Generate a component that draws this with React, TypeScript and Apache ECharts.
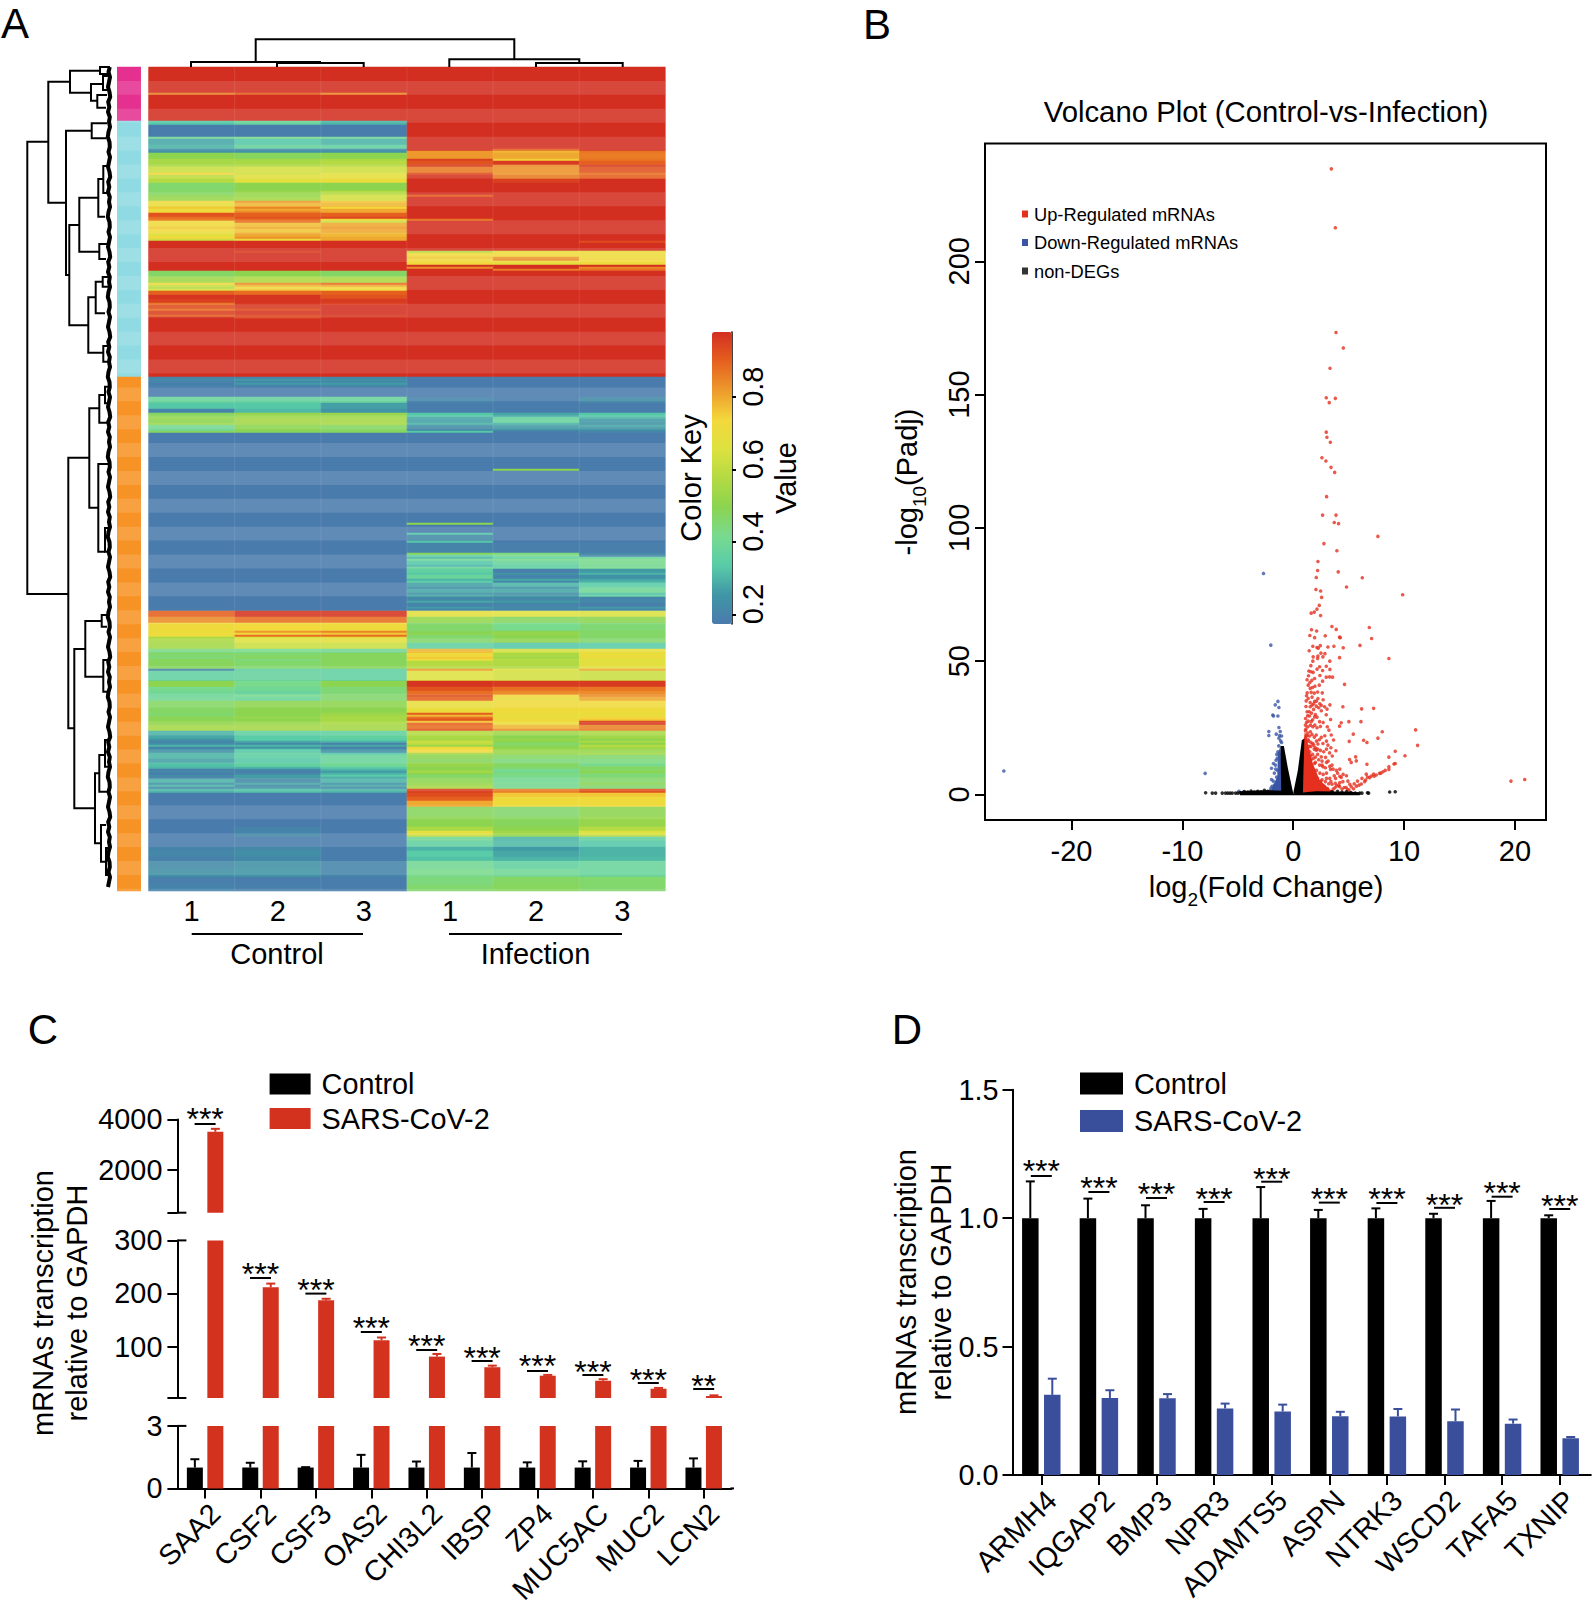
import React, { useEffect, useRef } from "react";
import * as echarts from "echarts";

const FONT = "Liberation Sans";
const R = 0.98;
const L = 0.17;

// ---- Panel A: heat map, bands of rows: [rows, Control 1-3, Infection 1-3]
const heatColumns = ["Control 1", "Control 2", "Control 3", "Infection 1", "Infection 2", "Infection 3"];
const heatBands: number[][] = [
  [13, R, R, R, R, R, R], [1, .85, .9, .84, R, R, R], [13, R, R, R, R, R, R],
  [2, .33, .38, .3, R, R, R], [6, .18, .18, .18, R, R, R], [1, .4, .42, .4, R, R, R], [3, .28, .33, .3, R, R, R],
  [2, .3, .37, .36, R, R, R], [1, .22, .22, .22, R, .9, R], [1, .25, .25, .25, .82, .78, .87], [3, .5, .48, .5, .82, .8, .86],
  [1, .55, .54, .56, .95, .75, .87], [2, .55, .56, .58, .92, .96, .9], [1, .56, .57, .58, .96, .84, .96], [3, .62, .64, .63, .86, .83, .92],
  [1, .74, .63, .66, .93, .82, .87], [2, .6, .67, .69, .97, .86, .9], [2, .58, .67, .7, R, .95, R], [4, .46, .5, .5, R, R, R],
  [2, .47, .52, .58, R, R, R], [1, .5, .52, .64, .9, R, R], [2, .52, .55, .64, R, R, R], [1, .72, .82, .76, R, R, R],
  [2, .7, .78, .78, R, R, R], [1, .76, .85, .74, R, R, R], [1, .7, .8, .8, R, R, R], [1, .74, .84, .8, R, R, R], [2, .92, .9, .9, R, R, R], [1, .88, .92, .94, R, R, R], [1, .86, .88, .72, .87, R, R],
  [1, .72, .88, .62, R, R, R], [2, .72, .77, .8, R, R, R], [1, .76, .8, .82, R, R, R], [2, .72, .76, .8, R, R, R], [2, .68, .8, .78, R, R, R], [1, .74, .83, .8, R, R, R], [1, .62, .72, .8, R, R, R], [1, R, R, R, R, R, .93], [4, R, R, R, R, R, R],
  [1, R, .95, R, .58, .7, .71], [2, R, R, R, .72, .72, .71], [1, R, R, R, .76, .82, .72], [1, R, R, R, .72, .84, .74], [1, R, R, R, .74, .7, .72], [1, R, R, R, .72, .68, .71],
  [1, R, R, R, R, R, R], [1, R, R, R, .84, R, .85], [1, R, R, R, R, .86, .88],
  [3, .47, .5, .47, R, R, R], [3, .54, .57, .56, R, R, R], [1, .72, .84, .88, R, R, R], [1, .62, .78, .8, R, R, R], [1, .58, .72, .74, R, R, R], [1, .64, .76, .72, R, R, R],
  [2, .9, .88, .9, R, R, R], [2, .97, .97, .92, R, R, R], [2, .95, .97, .96, R, R, R], [1, .87, .97, .95, R, R, R], [2, .93, .96, R, R, R, R],
  [1, .88, .93, R, R, R, R], [2, .95, .97, R, R, R, R], [1, .9, .94, .96, R, R, R], [1, R, .94, R, R, R, R], [29, R, R, R, R, R, R],
  [1, .2, .2, .21, L, L, L], [1, .22, .26, .24, L, L, L], [1, .2, .21, .22, L, L, L], [1, .18, .26, .26, L, L, L], [1, .2, .2, .22, L, L, L], [5, L, L, L, L, L, L], [3, .38, .37, .38, .2, .18, .22], [3, .33, .33, .27, .18, .18, .18],
  [2, .2, .31, .25, .18, .18, .18], [2, .48, .52, .52, .33, .28, .33], [1, .52, .54, .55, .28, .36, .3], [2, .5, .55, .55, .27, .38, .26], [1, .53, .54, .56, .3, .3, .24], [1, .42, .5, .48, .24, .27, .28], [2, .4, .5, .47, .22, .25, .25],
  [1, .48, .48, .48, .33, .18, .2], [18, L, L, L, L, L, L], [1, L, L, L, L, .5, L], [26, L, L, L, L, L, L], [1, L, L, L, .5, L, L],
  [4, L, L, L, L, L, L], [1, L, L, L, .33, L, L], [3, L, L, L, .22, L, L], [1, L, L, L, .33, L, L], [5, L, L, L, .2, .19, .19],
  [1, L, L, L, .48, .44, .21], [1, L, L, L, .36, .42, .21], [1, L, L, L, .3, .36, .38], [1, L, L, L, .4, .42, .42], [2, L, L, L, .33, .38, .42], [1, L, L, L, .3, .35, .4], [1, L, L, L, .38, .36, .42],
  [2, L, L, L, .36, .19, .26], [1, L, L, L, .33, .25, .3], [2, L, L, L, .38, .2, .24], [1, L, L, L, .3, .28, .28], [1, L, L, L, .35, .22, .3],
  [2, L, L, L, .27, .3, .34], [1, L, L, L, .22, .24, .38], [2, L, L, L, .28, .28, .4], [1, L, L, L, .24, .22, .32], [1, L, L, L, .28, .26, .36],
  [2, L, L, L, .22, .22, .2], [1, L, L, L, .28, .26, .22], [2, L, L, L, .2, .2, .19], [1, L, L, L, .26, .22, .26], [1, L, L, L, .2, .2, .2],
  [3, .9, .97, .97, .68, .66, .65], [3, .84, .88, .88, .52, .48, .5], [4, .72, .73, .72, .46, .42, .45], [1, .7, .82, .85, .48, .5, .47], [1, .72, .74, .76, .5, .52, .46], [1, .7, .88, .88, .46, .5, .47],
  [3, .56, .66, .68, .46, .5, .46], [3, .55, .62, .62, .36, .33, .34], [2, .43, .42, .4, .78, .64, .7], [2, .46, .46, .48, .72, .56, .7], [1, .44, .48, .48, .76, .54, .72], [1, .48, .44, .48, .7, .58, .66],
  [4, .48, .46, .48, .58, .57, .68], [1, .2, .35, .36, .82, .66, .8], [5, .36, .37, .36, .66, .64, .62], [3, .5, .42, .5, .97, .96, .96],
  [2, .42, .4, .45, .92, .88, .87], [2, .4, .38, .45, .88, .84, .84], [1, .38, .42, .46, .93, .74, .84], [2, .4, .38, .46, .9, .7, .8], [6, .47, .5, .5, .7, .72, .72],
  [1, .46, .5, .53, .9, .7, .7], [1, .46, .5, .54, .78, .7, .7], [1, .5, .52, .56, .88, .7, .74], [1, .48, .5, .55, .92, .72, .76], [1, .52, .52, .56, .76, .72, .94], [1, .5, .52, .56, .9, .7, .97],
  [2, .55, .55, .55, .88, .78, .85], [1, .55, .54, .55, .92, .84, .86],
  [2, .3, .36, .36, .58, .54, .56], [2, .28, .34, .36, .56, .5, .54], [1, .25, .34, .34, .55, .52, .5], [1, .2, .28, .3, .62, .5, .56], [1, .23, .22, .19, .6, .46, .5],
  [1, .3, .3, .28, .53, .48, .58], [1, .2, .25, .19, .72, .5, .54], [2, .24, .33, .24, .72, .52, .52], [1, .3, .36, .33, .55, .52, .55], [2, .3, .35, .38, .5, .47, .46],
  [2, .27, .33, .38, .48, .44, .44], [2, .32, .36, .4, .52, .47, .42], [1, .3, .3, .34, .5, .46, .48], [1, .19, .22, .3, .5, .42, .46], [1, .22, .19, .26, .55, .4, .5],
  [1, .18, .22, .3, .5, .44, .46], [1, .23, .27, .34, .46, .42, .44], [1, .19, .25, .28, .48, .42, .46], [2, .3, .22, .3, .5, .4, .46], [1, .24, .28, .24, .52, .42, .5],
  [1, .3, .22, .28, .54, .4, .46], [1, .22, .25, .22, .56, .42, .46], [2, .3, .32, .3, .95, .86, .92], [2, L, L, .18, .93, .76, .76], [2, L, L, .18, .9, .72, .72], [3, L, L, L, .8, .72, .72],
  [5, L, L, L, .48, .46, .5], [5, L, L, L, .5, .48, .52], [2, L, .2, L, .56, .5, .58], [2, L, .2, L, .68, .54, .66], [1, L, .22, L, .6, .5, .58],
  [2, .18, .18, .18, .4, .3, .36], [3, .18, .18, .18, .36, .31, .33], [2, .2, .22, .18, .3, .26, .3], [3, .21, .23, .18, .34, .28, .3], [2, .19, .21, .18, .32, .3, .31],
  [4, .22, .24, .2, .4, .36, .38], [4, .24, .25, .2, .42, .4, .38], [4, .19, .18, .18, .44, .47, .46], [3, .2, .19, .18, .46, .48, .46],
];
const sideGroupRows = [27, 128, 257];
const sideGroupColors = ["#E5308F", "#90DBE3", "#F79326"];
const keyColors = ["#4A7BAD", "#3F96A5", "#58CBA8", "#78DA90", "#8BD450", "#B4DA42", "#DDE240", "#F4D83C", "#ED9A2C", "#E5601F", "#D32F20"];
const keyTicks = [0.2, 0.4, 0.6, 0.8];

// ---- Panel B: volcano plot
const upPoints: number[][] = [
  [3.44, 234.7], [3.8, 212.6], [3.86, 173.3], [4.52, 167.5], [3.32, 159.9], [2.98, 148.8], [3.25, 147], [3.8, 148.6], [2.98, 135.9], [3.04, 134],
  [3.35, 132.1], [2.59, 126.3], [2.95, 125.1], [3.41, 122.7], [3.74, 120.8], [3.01, 111.7], [2.65, 104.8], [3.86, 104.8], [3.7, 102], [4.09, 101.6],
  [7.64, 96.8], [2.77, 94.1], [3.94, 91.4], [2.23, 87.4], [2.2, 84], [4.06, 83.5], [2.08, 81.4], [6.23, 81.3], [4.81, 77.8], [2.05, 76.9], [2.47, 76.3],
  [9.87, 74.9], [2.56, 73.9], [2.35, 70.9], [2.14, 69.5], [1.9, 68.4], [1.62, 68], [2.47, 67.1], [3.49, 63], [3.88, 61.9], [6.86, 62.6], [1.65, 61.8],
  [2.11, 61.3], [7.07, 58.5], [1.5, 59.6], [1.93, 58.8], [2.89, 59.5], [4.18, 59], [4.24, 58.8], [6.02, 55.9], [1.77, 55.6], [2.14, 55.1], [2.26, 54.9],
  [2.44, 55.8], [3.13, 55.3], [3.67, 55.6], [4.51, 55], [1.44, 53.9], [2.86, 52.8], [8.63, 51], [1.8, 51.6], [2.23, 51.9], [4.18, 51.3], [1.77, 50],
  [1.59, 48.3], [1.41, 46.3], [1.8, 45.8], [1.38, 44.5], [1.93, 43.5], [1.68, 42.8], [2.41, 44.6], [2.98, 44], [3.28, 44.1], [3.55, 44], [2.98, 48.1],
  [3.31, 46.9], [2.38, 47.9], [2.68, 51.6], [1.53, 39.8], [1.74, 40.1], [1.96, 40.6], [1.26, 38.1], [1.62, 38.3], [2.2, 38.4], [2.62, 38.1], [1.17, 35.1],
  [1.53, 34.5], [1.93, 34.9], [2.23, 36], [1.53, 32.9], [1.84, 31.9], [2.08, 33.1], [2.53, 33.4], [2.83, 32.9], [3.31, 33.6], [2.53, 31.4], [2.98, 29.9],
  [3.37, 28.1], [1.11, 28.5], [1.47, 29.4], [1.93, 29.1], [2.38, 27.3], [1.62, 27.3], [1.32, 25.4], [1.77, 25.4], [3.07, 25.4], [3.22, 24.1], [4.33, 26.9],
  [4.18, 25.6], [3.43, 22.3], [3.64, 20.4], [2.53, 21.4], [2.08, 22.3], [1.47, 21.9], [1.17, 19.8], [1.77, 19.1], [2.23, 18.9], [2.68, 19.1], [3.13, 18.5],
  [3.85, 16.4], [3.28, 15.6], [3.52, 14.4], [2.08, 16.6], [2.53, 14.1], [2.92, 13.9], [5.08, 13.1], [5.23, 12], [5.63, 14.1], [5.69, 12.6], [6.65, 11.3],
  [3.37, 9.4], [2.68, 10.4], [2.38, 11], [1.93, 11.6], [4.33, 6.4], [3.82, 6], [4.48, 4.8], [4.93, 5], [7.25, 7.6], [5.69, 3.1], [6.14, 3.9], [6.53, 5.4],
  [6.89, 6.3], [7.49, 7.3], [8.09, 8.5], [8.63, 10.4], [8.63, 9.4], [9.09, 11.4], [9.2, 11.6], [4.78, 2.6], [5.23, 2.9], [4.18, 2.9], [3.76, 2.5], [6.59, 7.6],
  [7.04, 6.9], [7.79, 7.9], [6.44, 4.8], [5.93, 3.5], [5.44, 2.1], [5.02, 1.6], [1.2, 16], [1.4, 14], [1.6, 13], [1.8, 13.5], [2, 12], [1.3, 11], [1.5, 10],
  [1.7, 9], [2.1, 9], [2.4, 8], [2.7, 7.5], [3, 8], [3.3, 6], [2.2, 6], [1.9, 6.5], [1.6, 7], [2.5, 5], [2.9, 4.8], [3.2, 4], [3.5, 3.8], [3.9, 3.2], [2.8, 3],
  [2.4, 3.2], [2.1, 3.8], [1.8, 4], [4.2, 4.4], [4.6, 2.6], [4.9, 1.8], [3.6, 2], [3.1, 2.2], [1.1, 24], [1.2, 22], [1.3, 23], [1.4, 20], [1.6, 18], [1.9, 17],
  [1.5, 16], [2.2, 15], [2.6, 12.5], [3, 12], [3.3, 10.5], [3.6, 9.5], [4, 8], [4.2, 6.8], [19.64, 5], [20.88, 5.6], [11.04, 24.2], [11.22, 18.4], [10.08, 14.5],
  [9.2, 16.2], [8.63, 14], [8.03, 23.5], [7.64, 21.1], [7.25, 32.3], [6.17, 32.1], [6.11, 27.3], [5.02, 27.3], [4.48, 32.9], [5.42, 22.6], [5.05, 19.9],
  [6.35, 20.3], [6.65, 19.5], [4.63, 41.3],
  [1.15, 33], [1.25, 31], [1.3, 29.5], [1.45, 31], [1.65, 30.5], [1.7, 33.5], [1.85, 34], [2, 30], [2.15, 29], [2.3, 32.5], [1.2, 27], [1.35, 27.5], [1.55, 26],
  [1.75, 28], [1.95, 26], [2.15, 25], [2.45, 25.5], [2.7, 27], [1.1, 26], [1.15, 24.5], [1.25, 22], [1.35, 20.5], [1.55, 23.5], [1.7, 22.5], [1.9, 21.5], [2.1, 20],
  [2.35, 20.5], [2.85, 22], [3, 20], [1.1, 21], [1.2, 18.5], [1.3, 17], [1.45, 18], [1.6, 19.5], [1.85, 18.5], [2, 17.5], [2.2, 17], [2.45, 16.5], [2.75, 16], [3, 17],
  [3.4, 17.5], [1.15, 15], [1.3, 14], [1.55, 14.5], [1.75, 15], [2, 14], [2.3, 13], [2.6, 11], [2.9, 10], [3.15, 12.5], [3.5, 11], [3.9, 9], [4.2, 9.5], [4.5, 7.5],
  [4.8, 7], [3.7, 7], [3, 6], [2.6, 5.5], [2.3, 4.5], [2, 5], [3.4, 4.8], [3.8, 4.2], [4.1, 3.5], [4.4, 2], [5.1, 3.8], [5.5, 4], [5.8, 5], [6.2, 6], [6.7, 6.5],
  [7.3, 6.8], [7.9, 8], [8.3, 9], [1.2, 37], [1.35, 36], [1.7, 36.5], [2.1, 35], [2.4, 34], [2.7, 35.5], [3.05, 32], [1.35, 41], [1.5, 42], [1.9, 38], [2.35, 41],
  [2.65, 42.5], [1.25, 43], [1.6, 46], [2.15, 47], [2.65, 46.5], [2.2, 51], [2.5, 53], [3.3, 50],
];
const downPoints: number[][] = [
  [-26.1, 8.8], [-2.68, 82.9], [-2.02, 56], [-7.94, 7.9], [-1.38, 34.9], [-1.62, 33.6], [-1.29, 32.6], [-1.84, 29.8], [-1.78, 29.4], [-1.38, 29.4], [-1.29, 25.1],
  [-1.17, 23.6], [-1.53, 22.6], [-2.2, 23.6], [-2.2, 22.1], [-1.23, 22.1], [-1.05, 21.9], [-1.29, 21.1], [-1.14, 20.1], [-1.05, 19.5], [-1.78, 11.6], [-1.96, 9.8],
  [-1.96, 5.6], [-1.38, 16], [-1.44, 13.5], [-1.23, 15.1], [-1.6, 11], [-1.4, 9], [-1.7, 8], [-1.5, 6.5], [-1.9, 3], [-1.75, 2.5], [-1.65, 3.6], [-4.9, 1.2],
  [-1.55, 12.8], [-1.3, 18.2], [-1.48, 15], [-1.58, 9.5], [-1.8, 5], [-2, 2.4], [-2.05, 1.5],
];
const baseDots: number[][] = [
  [-7.9, 0.6], [-7.3, 0.5], [-7, 0.5], [-6.4, 0.5], [-6.1, 0.5], [-5.9, 0.5], [-5.7, 0.5], [-5.5, 0.5], [-5.2, 0.5], [-5, 0.5], [-4.8, 0.6],
  [-4.5, 0.8], [6.8, 0.5], [6, 0.5], [6.2, 0.5], [6.7, 0.6], [8.7, 0.9], [9.2, 1],
  [-4.4, 1.1], [-4.1, 0.9], [-3.8, 1.3], [-3.5, 0.9], [-3.2, 1.2], [-2.9, 1], [-2.6, 1.5], [-2.3, 1.2], [3.5, 1], [4, 1.2], [4.4, 0.8], [4.8, 1], [5.2, 0.7], [5.6, 0.5],
];
const blackLeft = [[-1.14, 18.2], [-0.84, 18.2], [-0.48, 9.8], [0, 0.4], [-1.08, 0.2]];
const blackRight = [[0, 0.4], [0.42, 9.1], [0.78, 20.4], [1, 20.9], [0.9, 0.4]];
const blackBase = [[-4.8, 1.2], [-2.4, 1.6], [-1, 1.4], [0, 0.4], [2.1, 1.2], [5.1, 1], [6, 0.8], [6, -0.3], [-4.8, -0.3]];
const blueWedge = [[-2, 0.4], [-1.85, 3.2], [-1.44, 6.6], [-1.38, 15.4], [-1.14, 18.2], [-1, 0.4]];
const redWedge = [[0.9, 0.6], [0.93, 19.1], [1.05, 24], [1.32, 19.1], [1.77, 11.6], [2.38, 5.4], [3.28, 1.9], [3.88, 0.6]];
const xTicksB = [-20, -10, 0, 10, 20];
const yTicksB = [0, 50, 100, 150, 200];

// ---- Panel C
const genesC = ["SAA2", "CSF2", "CSF3", "OAS2", "CHI3L2", "IBSP", "ZP4", "MUC5AC", "MUC2", "LCN2"];
const controlC = [1, 1, 1, 1, 1, 1, 1, 1, 1, 1];
const controlTopC = [1.4, 1.23, 1.02, 1.61, 1.29, 1.7, 1.25, 1.3, 1.32, 1.44];
const sarsC = [3510, 211.6, 187, 112, 81, 61, 45, 35.5, 20.5, 6.7];
const sarsTopC = [3626, 218.6, 190, 117, 86, 64, 46.5, 38.4, 22, 8];
const sigC = ["***", "***", "***", "***", "***", "***", "***", "***", "***", "**"];
const sigLineYC = [1124, 1278, 1293.6, 1332, 1350, 1361, 1371, 1375, 1383, 1389];
const sigTextYC = [1115, 1270, 1285.7, 1324, 1342, 1354, 1362, 1368, 1376, 1382];

// ---- Panel D
const genesD = ["ARMH4", "IQGAP2", "BMP3", "NPR3", "ADAMTS5", "ASPN", "NTRK3", "WSCD2", "TAFA5", "TXNIP"];
const controlD = [1, 1, 1, 1, 1, 1, 1, 1, 1, 1];
const controlTopD = [1.143, 1.076, 1.05, 1.036, 1.121, 1.032, 1.038, 1.017, 1.067, 1.011];
const sarsD = [0.312, 0.3, 0.299, 0.259, 0.247, 0.229, 0.228, 0.209, 0.2, 0.143];
const sarsTopD = [0.375, 0.33, 0.315, 0.278, 0.274, 0.246, 0.257, 0.255, 0.216, 0.148];
const sigD = ["***", "***", "***", "***", "***", "***", "***", "***", "***", "***"];
const sigLineYD = [1176, 1192, 1198, 1202, 1181.7, 1202.6, 1203, 1207.8, 1196.7, 1209];
const sigTextYD = [1167.4, 1183.8, 1190, 1194.6, 1175, 1194.6, 1195, 1200.9, 1189, 1202];

// ---- Dendrogram brackets: [x of join, y top, x top end, y bottom, x bottom end]
const rowDendro: number[][] = [
  [27.3, 141.7, 48.3, 594, 68.3], [48.3, 81.7, 70, 202.7, 66], [70, 70.7, 100, 92.7, 91], [91, 84, 103, 100.7, 97.3], [97.3, 95, 107, 107.7, 106],
  [66, 130.7, 91.7, 275, 69.3], [91.7, 123.3, 107, 138.3, 106], [69.3, 225, 79.3, 325.3, 88.3], [79.3, 197.7, 98.3, 251.7, 99.3], [98.3, 179, 103.3, 216.7, 105],
  [103.3, 166, 108, 193, 108], [99.3, 244, 108, 259, 106], [88.3, 297.3, 95.7, 352.7, 103.3], [95.7, 281.7, 102.7, 313.3, 105], [102.7, 277, 108, 286.7, 108],
  [103.3, 346, 108, 361.7, 108], [68.3, 457.7, 89.3, 728.3, 74.3], [89.3, 408.3, 99.3, 507.7, 98.3], [99.3, 395, 105, 422.7, 108], [105, 386.7, 110, 403.3, 108],
  [98.3, 464, 108, 551.7, 105], [105, 528, 110, 551.7, 108], [74.3, 649, 85.3, 808.3, 95], [85.3, 621, 101.7, 676.7, 103.3], [101.7, 615, 107, 626.7, 107],
  [103.3, 660, 108, 691.7, 108], [95, 773.3, 99.3, 843.3, 101], [99.3, 755, 105, 791.7, 108], [105, 740, 108, 766.7, 108], [101, 825, 106, 861.7, 106],
  [106, 848, 110, 875, 110], [100, 67, 110, 74, 110], [103, 76, 110, 90, 110],
];
const edgeWiggle = [0.8, -0.5, 1, 0, -1, 0.5, 1.2, -0.8, 0.3, -1, 0.8, 0, 1, -0.5, -1.2, 0.5];
const colDendro: number[][][] = [
  [[255.7, 62], [255.7, 39.3], [514.3, 39.3], [514.3, 59.3]],
  [[191, 67], [191, 62], [320, 62], [320, 63]],
  [[277, 67], [277, 63], [363.7, 63], [363.7, 67]],
  [[449.3, 67], [449.3, 59.3], [579.3, 59.3], [579.3, 63]],
  [[536, 67], [536, 63], [622.7, 63], [622.7, 67]],
];

const HX = 148.6, HW = 516.7, HY = 67, HH = 824;
const CX = 177.4, CW = 554, DX = 1012.5, DW = 576;

const shapeSeries = (name: string, points: number[][], color: string) => ({
  type: "custom", name, coordinateSystem: "cartesian2d", xAxisIndex: 3, yAxisIndex: 3, silent: true, data: [[0, 0]], z: 2,
  itemStyle: { color },
  renderItem: (_p: any, api: any) => ({ type: "polygon", shape: { points: points.map((q) => api.coord(q)) }, style: { fill: color } }),
});
const errorSeries = (name: string, grid: number, values: number[], tops: number[], keep: (i: number) => boolean, offset: number, color: string) => ({
  type: "custom", name, coordinateSystem: "cartesian2d", xAxisIndex: grid, yAxisIndex: grid, silent: true, z: 3,
  itemStyle: { color },
  encode: { x: 0, y: [1, 2] },
  data: values.map((v, i) => [i, v, tops[i]]).filter((d) => keep(d[0])),
  renderItem: (_p: any, api: any) => {
    const a = api.coord([api.value(0), api.value(1)]);
    const b = api.coord([api.value(0), api.value(2)]);
    const x = a[0] + offset;
    const st = { stroke: color, lineWidth: 2, fill: "none" };
    return { type: "group", children: [
      { type: "line", shape: { x1: x, y1: a[1], x2: x, y2: b[1] }, style: st },
      { type: "line", shape: { x1: x - 4.5, y1: b[1], x2: x + 4.5, y2: b[1] }, style: st },
    ] };
  },
});
const barSeries = (name: string, grid: number, data: number[], color: string, width: number, gap: string) => ({
  type: "bar", name, xAxisIndex: grid, yAxisIndex: grid, data, barWidth: width, barGap: gap, silent: true, itemStyle: { color },
});

const text = (t: string, x: number, y: number, size: number, extra: any = {}) => ({
  type: "text", x, y, z: 60, silent: true, ...extra,
  style: { text: t, fontSize: size, fontFamily: FONT, fill: "#000", align: "center", verticalAlign: "middle", ...(extra.style || {}) },
});
const seg = (x1: number, y1: number, x2: number, y2: number, w = 2) => ({
  type: "line", z: 60, silent: true, shape: { x1, y1, x2, y2 }, style: { stroke: "#000", lineWidth: w },
});

function buildOption() {
  const rowNames: string[] = [];
  const heat: number[][] = [];
  heatBands.forEach((b) => {
    for (let k = 0; k < b[0]; k++) {
      const r = rowNames.length;
      rowNames.push("r" + r);
      for (let c = 0; c < 6; c++) heat.push([c, r, b[c + 1]]);
    }
  });
  const side: number[][] = [];
  let sr = 0;
  sideGroupRows.forEach((n, idx) => {
    for (let k = 0; k < n; k++) side.push([0, sr++, idx]);
  });

  const g: any[] = [];
  // stripes and column seams of the heat map raster
  for (let k = 1; k * 13.93 < HH; k += 2) {
    const y = HY + k * 13.93;
    const h = Math.min(13.93, HY + HH - y);
    g.push({ type: "rect", z: 50, silent: true, shape: { x: HX, y, width: HW, height: h }, style: { fill: "rgba(255,255,255,0.12)" } });
    g.push({ type: "rect", z: 50, silent: true, shape: { x: 117.3, y, width: 23.4, height: h }, style: { fill: "rgba(255,255,255,0.13)" } });
  }
  for (let c = 1; c < 6; c++) {
    const x = HX + (HW * c) / 6;
    g.push({ type: "line", z: 50, silent: true, shape: { x1: x, y1: HY, x2: x, y2: HY + HH }, style: { stroke: "rgba(255,255,255,0.1)", lineWidth: 1 } });
  }
  // dendrograms
  rowDendro.forEach(([xn, y1, x1, y2, x2]) =>
    g.push({ type: "polyline", z: 60, silent: true, shape: { points: [[x1, y1], [xn, y1], [xn, y2], [x2, y2]] }, style: { stroke: "#000", lineWidth: 2, fill: "none" } }));
  const edge: number[][] = [];
  for (let y = 67, i = 0; y <= 891; y += 5, i++) edge.push([109 + edgeWiggle[i % edgeWiggle.length], y]);
  g.push({ type: "polyline", z: 60, silent: true, shape: { points: edge }, style: { stroke: "#000", lineWidth: 4, fill: "none" } });
  colDendro.forEach((points) =>
    g.push({ type: "polyline", z: 60, silent: true, shape: { points }, style: { stroke: "#000", lineWidth: 2, fill: "none" } }));
  // panel letters
  g.push(text("A", 15, 23, 42), text("B", 877, 24, 42), text("C", 43, 1029, 42), text("D", 907, 1029, 42));
  // heat map groups
  g.push(seg(191.7, 934, 363, 934), seg(449, 934, 622, 934), text("Control", 277, 954, 29), text("Infection", 535.5, 954, 29));
  g.push(text("Color Key", 690.5, 478, 29, { rotation: Math.PI / 2 }), text("Value", 786, 478, 29, { rotation: Math.PI / 2 }));
  // volcano axis names with subscripts
  const richB = { a: { fontSize: 29, fontFamily: FONT, fill: "#000" }, b: { fontSize: 19, fontFamily: FONT, fill: "#000", verticalAlign: "bottom", padding: [24, 0, 0, 0] } };
  g.push(text("{a|log}{b|2}{a|(Fold Change)}", 1266, 887, 29, { style: { rich: richB } }));
  g.push(text("{a|-log}{b|10}{a|(Padj)}", 907, 482, 29, { rotation: Math.PI / 2, style: { rich: richB } }));
  // y titles
  g.push(text("mRNAs transcription", 42.5, 1303, 29, { rotation: Math.PI / 2 }), text("relative to GAPDH", 76.5, 1303, 29, { rotation: Math.PI / 2 }));
  g.push(text("mRNAs transcription", 905.5, 1282, 29, { rotation: Math.PI / 2 }), text("relative to GAPDH", 941, 1282, 29, { rotation: Math.PI / 2 }));
  // significance
  const cBand = CW / 10, dBand = DW / 10;
  sigC.forEach((s, i) => {
    const x = CX + cBand * (i + 0.5);
    g.push(seg(x - 10.5, sigLineYC[i], x + 10.5, sigLineYC[i]), text(s, x, sigTextYC[i] + 4, 32));
  });
  sigD.forEach((s, i) => {
    const x = DX + dBand * (i + 0.5);
    g.push(seg(x - 10.5, sigLineYD[i], x + 10.5, sigLineYD[i]), text(s, x, sigTextYD[i] + 4, 32));
  });
  // break caps on the right of the axis in panel C, axis run-outs
  [1212.7, 1240.4, 1398, 1425.9].forEach((y) => g.push(seg(CX, y, CX + 9, y)));
  g.push(seg(CX + CW - 1, 1488.4, 734, 1488.4), seg(DX + DW - 1, 1475, 1591.6, 1475));

  const axisLine = { show: true, onZero: false, lineStyle: { color: "#000", width: 2 } };
  const axisTick = { show: true, length: 10, lineStyle: { color: "#000", width: 2 } };
  const label = { color: "#000", fontSize: 28.8, fontFamily: FONT };
  const hidden = { show: false };
  const catLabels = { ...label, rotate: 45, interval: 0, margin: 10, verticalAlign: "top" };
  const plain = (v: number) => String(v);

  const grid = [
    { left: HX, top: HY, width: HW, height: HH },
    { left: 117.3, top: HY, width: 23.4, height: HH },
    { left: 712, top: 332, width: 20, height: 292 },
    { left: 985, top: 143.5, width: 561, height: 676.5, show: true, borderColor: "#000", borderWidth: 2, backgroundColor: "transparent" },
    { left: CX, top: 1119.4, width: CW, height: 93.3 },
    { left: CX, top: 1240.4, width: CW, height: 157.6 },
    { left: CX, top: 1425.9, width: CW, height: 62.5 },
    { left: DX, top: 1089.7, width: DW, height: 385.3 },
  ].map((o) => ({ ...o, outerBoundsMode: "none", containLabel: false }));
  const xAxis: any[] = [
    { gridIndex: 0, type: "category", data: heatColumns, axisLine: hidden, axisTick: hidden, position: "bottom",
      axisLabel: { ...label, fontSize: 29, margin: 5, interval: 0, formatter: (v: string) => v.slice(-1) } },
    { gridIndex: 1, type: "category", data: ["group"], show: false },
    { gridIndex: 2, type: "value", min: 0, max: 1, show: false },
    { gridIndex: 3, type: "value", min: -27.8, max: 22.8, position: "bottom", splitLine: hidden,
      axisLine: { show: false, onZero: false }, axisTick: { ...axisTick, customValues: xTicksB },
      axisLabel: { ...label, fontSize: 29, margin: 16, customValues: xTicksB, formatter: plain } },
    { gridIndex: 4, type: "category", data: genesC, show: false },
    { gridIndex: 5, type: "category", data: genesC, show: false },
    { gridIndex: 6, type: "category", data: genesC, axisLine, axisTick: { ...axisTick, alignWithLabel: true }, axisLabel: catLabels },
    { gridIndex: 7, type: "category", data: genesD, axisLine, axisTick: { ...axisTick, alignWithLabel: true }, axisLabel: catLabels },
  ];
  const yAxis: any[] = [
    { gridIndex: 0, type: "category", data: rowNames, inverse: true, show: false },
    { gridIndex: 1, type: "category", data: rowNames, inverse: true, show: false },
    { gridIndex: 2, type: "value", min: 0.174, max: 0.98, position: "right", splitLine: hidden,
      axisLine: { show: true, onZero: false, lineStyle: { color: "#000", width: 1.5 } },
      axisTick: { show: true, length: 4, customValues: keyTicks, lineStyle: { color: "#000", width: 2 } },
      axisLabel: { ...label, fontSize: 29, rotate: 90, margin: 6, padding: [0, 0, 0, 21], customValues: keyTicks, formatter: (v: number) => v.toFixed(1) } },
    { gridIndex: 3, type: "value", min: -9.6, max: 244.2, splitLine: hidden, axisLine: { show: false, onZero: false },
      axisTick: { ...axisTick, customValues: yTicksB }, axisLabel: { ...label, fontSize: 29, rotate: 90, margin: 12, customValues: yTicksB, formatter: plain } },
    { gridIndex: 4, type: "value", min: 300, max: 4000, splitLine: hidden, axisLine,
      axisTick: { ...axisTick, customValues: [300, 2000, 4000] }, axisLabel: { ...label, margin: 15, customValues: [2000, 4000], formatter: plain } },
    { gridIndex: 5, type: "value", min: 3, max: 300, splitLine: hidden, axisLine,
      axisTick: { ...axisTick, customValues: [3, 100, 200, 300] }, axisLabel: { ...label, margin: 15, customValues: [100, 200, 300], formatter: plain } },
    { gridIndex: 6, type: "value", min: 0, max: 3, splitLine: hidden, axisLine,
      axisTick: { ...axisTick, customValues: [0, 3] }, axisLabel: { ...label, margin: 15, customValues: [0, 3], formatter: plain } },
    { gridIndex: 7, type: "value", min: 0, max: 1.5, interval: 0.5, splitLine: hidden, axisLine, axisTick,
      axisLabel: { ...label, margin: 14, formatter: (v: number) => v.toFixed(1) } },
  ];
  const RED = "#D3321F", BLUE = "#3A4F9B", VRED = "#E5301F", VBLUE = "#3A55A5";
  const DOT = 3.6;
  const series: any[] = [
    { type: "heatmap", xAxisIndex: 0, yAxisIndex: 0, data: heat, silent: true, progressive: 0, emphasis: { disabled: true } },
    { type: "heatmap", xAxisIndex: 1, yAxisIndex: 1, data: side, silent: true, progressive: 0, emphasis: { disabled: true } },
    shapeSeries("Up-Regulated mRNAs", redWedge, VRED),
    shapeSeries("Down-Regulated mRNAs", blueWedge, VBLUE),
    { type: "scatter", name: "Up-Regulated mRNAs", xAxisIndex: 3, yAxisIndex: 3, data: upPoints, symbolSize: DOT, silent: true, itemStyle: { color: VRED }, z: 3 },
    { type: "scatter", name: "Down-Regulated mRNAs", xAxisIndex: 3, yAxisIndex: 3, data: downPoints, symbolSize: DOT, silent: true, itemStyle: { color: VBLUE }, z: 3 },
    { type: "scatter", name: "non-DEGs", xAxisIndex: 3, yAxisIndex: 3, data: baseDots, symbolSize: DOT, silent: true, itemStyle: { color: "#000" }, z: 4 },
    { ...shapeSeries("non-DEGs", blackLeft, "#000"), z: 4 },
    { ...shapeSeries("non-DEGs", blackRight, "#000"), z: 4 },
    { ...shapeSeries("non-DEGs", blackBase, "#000"), z: 4 },
    barSeries("Control", 4, [], "#000", 16, "28%"), barSeries("SARS-CoV-2", 4, sarsC, RED, 16, "28%"),
    barSeries("Control", 5, [], "#000", 16, "28%"), barSeries("SARS-CoV-2", 5, sarsC, RED, 16, "28%"),
    barSeries("Control", 6, controlC, "#000", 16, "28%"), barSeries("SARS-CoV-2", 6, sarsC, RED, 16, "28%"),
    errorSeries("SARS-CoV-2", 4, sarsC, sarsTopC, (i) => i === 0, 10.24, RED),
    errorSeries("SARS-CoV-2", 5, sarsC, sarsTopC, (i) => i > 0, 10.24, RED),
    errorSeries("Control", 6, controlC, controlTopC, () => true, -10.24, "#000"),
    barSeries("Control", 7, controlD, "#000", 16.5, "33%"), barSeries("SARS-CoV-2", 7, sarsD, BLUE, 16.5, "33%"),
    errorSeries("Control", 7, controlD, controlTopD, () => true, -11, "#000"),
    errorSeries("SARS-CoV-2", 7, sarsD, sarsTopD, () => true, 11, BLUE),
  ];
  const legendBase = { orient: "vertical", selectedMode: false, icon: "rect", padding: 0, align: "left" };
  return {
    animation: false,
    backgroundColor: "#fff",
    textStyle: { fontFamily: FONT },
    title: { text: "Volcano Plot (Control-vs-Infection)", left: 1266, top: 97, textAlign: "center", padding: 0,
      textStyle: { fontSize: 29.3, fontWeight: "normal", fontFamily: FONT, color: "#000" } },
    legend: [
      { ...legendBase, left: 1022, top: 205, itemWidth: 6, itemHeight: 7, itemGap: 10.5, textStyle: { fontSize: 18.3, fontFamily: FONT, color: "#000", padding: [0, 0, 0, 1] },
        data: [
          { name: "Up-Regulated mRNAs", itemStyle: { color: VRED } },
          { name: "Down-Regulated mRNAs", itemStyle: { color: VBLUE } },
          { name: "non-DEGs", itemStyle: { color: "#000" } },
        ] },
      { ...legendBase, left: 269.6, top: 1069.5, itemWidth: 41, itemHeight: 21, itemGap: 5.5, textStyle: { fontSize: 28.8, fontFamily: FONT, color: "#000", padding: [0, 0, 0, 6] },
        data: [{ name: "Control", itemStyle: { color: "#000" } }, { name: "SARS-CoV-2", itemStyle: { color: RED } }] },
      { ...legendBase, left: 1080, top: 1069, itemWidth: 43, itemHeight: 22, itemGap: 8.5, textStyle: { fontSize: 28.8, fontFamily: FONT, color: "#000", padding: [0, 0, 0, 6] },
        data: [{ name: "Control", itemStyle: { color: "#000" } }, { name: "SARS-CoV-2", itemStyle: { color: BLUE } }] },
    ],
    visualMap: [
      { type: "continuous", seriesIndex: 0, dimension: 2, min: 0.174, max: 0.98, inRange: { color: keyColors }, calculable: false, hoverLink: false,
        left: 712, top: 332, itemWidth: 20, itemHeight: 292, padding: 0, text: [], orient: "vertical" },
      { type: "piecewise", show: false, seriesIndex: 1, dimension: 2,
        pieces: sideGroupColors.map((color, i) => ({ value: i, color })) },
    ],
    grid, xAxis, yAxis, series,
    graphic: { elements: g },
  };
}

export default function App() {
  const ref = useRef<HTMLDivElement>(null);
  useEffect(() => {
    const chart = echarts.init(ref.current!, null, { renderer: "svg" });
    chart.setOption(buildOption() as any);
    return () => chart.dispose();
  }, []);
  return <div ref={ref} style={{ position: "absolute", left: 0, top: 0, width: 1594, height: 1607 }} />;
}
